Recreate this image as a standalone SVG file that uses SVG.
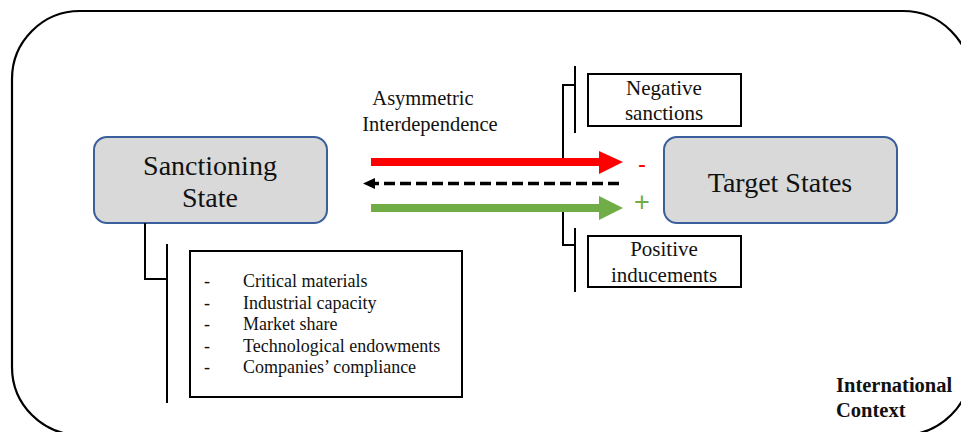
<svg xmlns="http://www.w3.org/2000/svg" width="961" height="432" viewBox="0 0 961 432">
<defs>
<style>
.node rect.main{fill:#d9d9d9;stroke:#3a5f9c;stroke-width:2}
.box{fill:#fff;stroke:#000;stroke-width:2}
.t{font-family:'Liberation Serif',serif;fill:#111}
.c{text-anchor:middle}
.ln{fill:none;stroke:#000;stroke-width:2}
</style>
</defs>
<rect x="12" y="11" width="959" height="424" rx="68" ry="68" fill="none" stroke="#000" stroke-width="2.2"/>

<g id="sanctioning-state" class="node">
<rect class="main" x="94" y="137" width="233" height="86" rx="13"/>
<text class="t c" x="210" y="175" font-size="28">Sanctioning</text>
<text class="t c" x="210" y="207" font-size="28">State</text>
</g>

<g id="target-states" class="node">
<rect class="main" x="664" y="137" width="233" height="86" rx="13"/>
<text class="t c" x="780" y="192" font-size="28">Target States</text>
</g>

<g id="asymmetric-label">
<text class="t c" x="423" y="105" font-size="20.5">Asymmetric</text>
<text class="t c" x="430" y="131" font-size="20.5">Interdependence</text>
</g>

<g id="negative-sanctions">
<rect class="box" x="588" y="74" width="153" height="52"/>
<text class="t c" x="664" y="95" font-size="21">Negative</text>
<text class="t c" x="664" y="120" font-size="21">sanctions</text>
</g>

<g id="positive-inducements">
<rect class="box" x="588" y="236" width="153" height="51"/>
<text class="t c" x="664" y="256" font-size="21">Positive</text>
<text class="t c" x="664" y="282" font-size="21">inducements</text>
</g>

<g id="resources">
<rect class="box" x="190" y="251" width="272" height="146"/>
<text class="t" font-size="18" x="204" y="287">-</text><text class="t" font-size="18" x="243" y="287">Critical materials</text>
<text class="t" font-size="18" x="204" y="308.5">-</text><text class="t" font-size="18" x="243" y="308.5">Industrial capacity</text>
<text class="t" font-size="18" x="204" y="330">-</text><text class="t" font-size="18" x="243" y="330">Market share</text>
<text class="t" font-size="18" x="204" y="351.5">-</text><text class="t" font-size="18" x="243" y="351.5">Technological endowments</text>
<text class="t" font-size="18" x="204" y="373">-</text><text class="t" font-size="18" x="243" y="373">Companies’ compliance</text>
</g>

<g id="context-label">
<text class="t" x="836" y="392" font-size="20.5" font-weight="bold">International</text>
<text class="t" x="836" y="417" font-size="20.5" font-weight="bold">Context</text>
</g>

<g id="connectors">
<polyline class="ln" points="145,223 145,279 167,279"/>
<line class="ln" x1="167" y1="244" x2="167" y2="403"/>
<polyline class="ln" points="563,158 563,85 575,85"/>
<line class="ln" x1="575" y1="66" x2="575" y2="133"/>
<polyline class="ln" points="563,212 563,245 575,245"/>
<line class="ln" x1="575" y1="228" x2="575" y2="292"/>
<rect x="371" y="158" width="229" height="8" fill="#ff0000"/>
<polygon points="599,151 623,162 599,174" fill="#ff0000"/>
<line x1="619" y1="183.5" x2="374" y2="183.5" stroke="#000" stroke-width="3.5" stroke-dasharray="11,5"/>
<polygon points="375,178 363,183.5 375,189" fill="#000"/>
<rect x="371" y="204" width="229" height="8" fill="#70ad47"/>
<polygon points="599,196 623,208 599,220" fill="#70ad47"/>
<text x="642" y="172" font-family="'Liberation Sans',sans-serif" font-size="24" fill="#ff0000" text-anchor="middle">-</text>
<text x="642" y="211" font-family="'Liberation Sans',sans-serif" font-size="27" fill="#70ad47" text-anchor="middle">+</text>
</g>
</svg>
